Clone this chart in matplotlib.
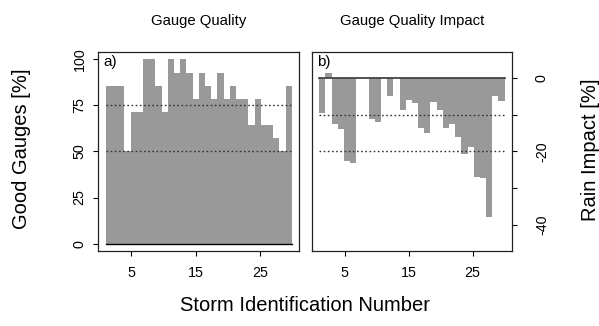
import numpy as np
import matplotlib
matplotlib.use("Agg")
import matplotlib.pyplot as plt

plt.rcParams['font.family'] = ['Liberation Sans', 'DejaVu Sans']

# storms 1..30
storm = np.arange(1, 31)

# percentage of good gauges per storm (14 gauges)
good_gauges = np.array([12, 12, 12, 7, 10, 10, 14, 14, 12, 10,
                        14, 13, 14, 13, 11, 13, 12, 11, 13, 11,
                        12, 11, 11, 9, 11, 9, 9, 8, 7, 12]) / 14 * 100

# rain impact of gauge quality [%]
rain_impact = np.array([-9.6, 1.3, -12.5, -13.8, -22.7, -23.2, 0, 0, -11.1, -12.1,
                        0, -5.0, 0, -8.7, -6.0, -6.8, -13.5, -14.9, -6.6, -8.7,
                        -13.5, -12.5, -16.2, -20.7, -18.9, -26.8, -27.2, -37.7, -5.0, -6.3])

xticks = [5, 15, 25]
left_ticks = [0, 25, 50, 75, 100]
right_ticks = [-40, -30, -20, -10, 0]
right_labels = ['-40', '', '-20', '', '0']

bar_col = '#999999'
tick_fs = 10.3
lab_fs = 14.5

fig = plt.figure(figsize=(5.99, 3.26), dpi=100)
ax1 = fig.add_axes([0.1641, 0.2301, 0.3356, 0.6104])
ax2 = fig.add_axes([0.5204, 0.2301, 0.3344, 0.6104])

# bars fill the span between first and last storm
edges = np.linspace(storm[0], storm[-1], len(storm) + 1)
bw = edges[1] - edges[0]

ax1.bar(edges[:-1], good_gauges, width=bw, align='edge', color=bar_col, linewidth=0)
ax1.hlines([50, 75], storm[0], storm[-1], colors='#333333', linewidth=1.0,
           linestyles=(0, (1.2, 1.8)))
ax1.plot([storm[0], storm[-1]], [0, 0], color='black', lw=1.0)
ax1.set_xlim(-0.16, 31.16)
ax1.set_ylim(-4, 104)
ax1.set_yticks(left_ticks)
ax1.set_yticklabels([str(t) for t in left_ticks], rotation=90, va='center')
ax1.text(0.025, 0.985, 'a)', transform=ax1.transAxes, ha='left', va='top', fontsize=11)

ax2.bar(edges[:-1], rain_impact, width=bw, align='edge', color=bar_col, linewidth=0)
ax2.hlines([-10, -20], storm[0], storm[-1], colors='#333333', linewidth=1.0,
           linestyles=(0, (1.2, 1.8)))
ax2.plot([storm[0], storm[-1]], [0, 0], color='#444444', lw=1.3)
ax2.set_xlim(-0.16, 31.16)
ax2.set_ylim(-47, 7)
ax2.yaxis.tick_right()
ax2.set_yticks(right_ticks)
ax2.set_yticklabels(right_labels, rotation=90, va='center')
ax2.text(0.025, 0.985, 'b)', transform=ax2.transAxes, ha='left', va='top', fontsize=11)

for ax in (ax1, ax2):
    ax.set_xticks(xticks)
    ax.set_xticklabels([str(t) for t in xticks])
    ax.tick_params(direction='out', length=3.5, width=0.8, labelsize=tick_fs, pad=7)
    ax.tick_params(axis='y', pad=5)
    for s in ax.spines.values():
        s.set_linewidth(0.9)
        s.set_color('#222222')

ax2.tick_params(axis='y', pad=13)

fig.text(0.332, 0.936, 'Gauge Quality', ha='center', va='center', fontsize=10.7)
fig.text(0.6876, 0.936, 'Gauge Quality Impact', ha='center', va='center', fontsize=10.7)
fig.text(0.036, 0.545, 'Good Gauges [%]', rotation=90, ha='center', va='center', fontsize=lab_fs)
fig.text(0.985, 0.54, 'Rain Impact [%]', rotation=90, ha='center', va='center', fontsize=lab_fs)
fig.text(0.509, 0.064, 'Storm Identification Number', ha='center', va='center', fontsize=lab_fs)

fig.savefig('out.png', dpi=100)
